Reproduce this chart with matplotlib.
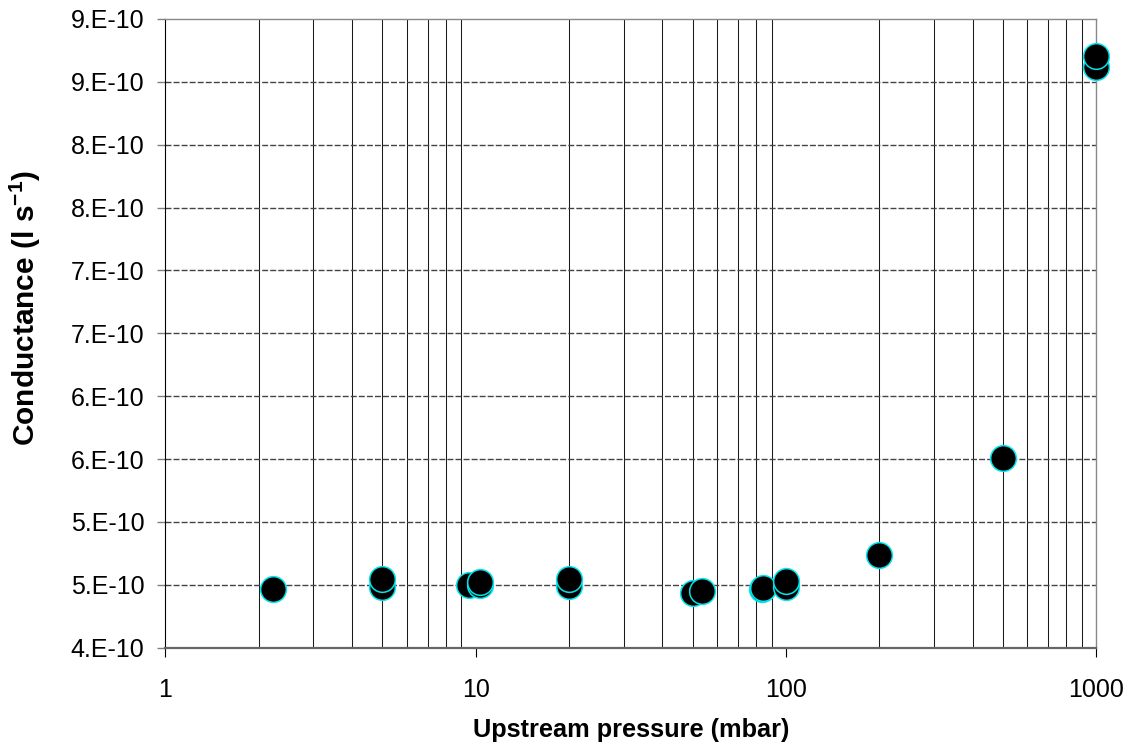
import matplotlib
matplotlib.use("Agg")
import matplotlib.pyplot as plt
from matplotlib.ticker import FixedLocator, NullFormatter, NullLocator

plt.rcParams['font.family'] = ['Liberation Sans', 'DejaVu Sans']
plt.rcParams['mathtext.fontset'] = 'custom'
plt.rcParams['mathtext.rm'] = 'Liberation Sans'
plt.rcParams['mathtext.bf'] = 'Liberation Sans:bold'

# Measured conductance versus upstream pressure
pressure_mbar = [2.22, 5.0, 5.0, 9.5, 10.3, 10.3, 20.0, 20.0, 50.0, 53.5,
                 84.0, 84.6, 100.0, 100.0, 200.0, 500.0, 1000.0, 1000.0]
conductance = [4.464e-10, 4.485e-10, 4.544e-10, 4.499e-10, 4.50e-10, 4.52e-10,
               4.493e-10, 4.544e-10, 4.438e-10, 4.453e-10,
               4.468e-10, 4.477e-10, 4.485e-10, 4.533e-10, 4.735e-10,
               5.511e-10, 8.621e-10, 8.706e-10]

y_ticks = [4.0e-10, 4.5e-10, 5.0e-10, 5.5e-10, 6.0e-10, 6.5e-10,
           7.0e-10, 7.5e-10, 8.0e-10, 8.5e-10, 9.0e-10]
y_tick_labels = ['4.E-10', '5.E-10', '5.E-10', '6.E-10', '6.E-10', '7.E-10',
                 '7.E-10', '8.E-10', '8.E-10', '9.E-10', '9.E-10']
x_ticks = [1, 10, 100, 1000]
x_tick_labels = ['1', '10', '100', '1000']
x_minor = [m * d for d in (1, 10, 100) for m in range(2, 10)]

fig = plt.figure(figsize=(11.33, 7.47), dpi=100)
ax = fig.add_axes([0.1459, 0.1329, 0.8217, 0.8417])

ax.set_xscale('log')
ax.set_xlim(1, 1000)
ax.set_ylim(4.0e-10, 9.0e-10)

# vertical grid at every minor and major decade position
for xv in x_minor:
    ax.axvline(xv, color='#1a1a1a', lw=0.75, zorder=1)
# horizontal dashed grid
for yv in y_ticks[1:-1]:
    ax.axhline(yv, color='#444444', lw=1.0, dashes=(4.3, 1.5), zorder=1)

ax.plot(pressure_mbar, conductance, linestyle='none', marker='o',
        markersize=18.5, markerfacecolor='black', markeredgecolor='#00E5EE',
        markeredgewidth=1.1, zorder=3, clip_on=False)

ax.xaxis.set_major_locator(FixedLocator(x_ticks))
ax.set_xticklabels(x_tick_labels)
ax.xaxis.set_minor_locator(NullLocator())
ax.xaxis.set_minor_formatter(NullFormatter())
ax.set_yticks(y_ticks)
ax.set_yticklabels(y_tick_labels)

ax.tick_params(axis='x', direction='out', length=6.5, width=0.8, color='black',
               labelsize=18, pad=15)
ax.tick_params(axis='y', direction='out', length=6, width=1.0, color='#808080',
               labelsize=18, pad=9)

ax.spines['left'].set_color('black')
ax.spines['left'].set_linewidth(0.8)
ax.spines['bottom'].set_color('#666666')
ax.spines['bottom'].set_linewidth(1.6)
for s in ('top', 'right'):
    ax.spines[s].set_color('#888888')
    ax.spines[s].set_linewidth(1.0)

ax.set_xlabel('Upstream pressure (mbar)', fontsize=18.3, fontweight='bold', labelpad=12)
ax.set_ylabel(r'Conductance (l s$\mathbf{^{-1}}$)', fontsize=21.5, fontweight='bold')
ax.yaxis.set_label_coords(-0.150, 0.54)
ax.yaxis.label.set_va('center')

fig.savefig('out.png', dpi=100)
